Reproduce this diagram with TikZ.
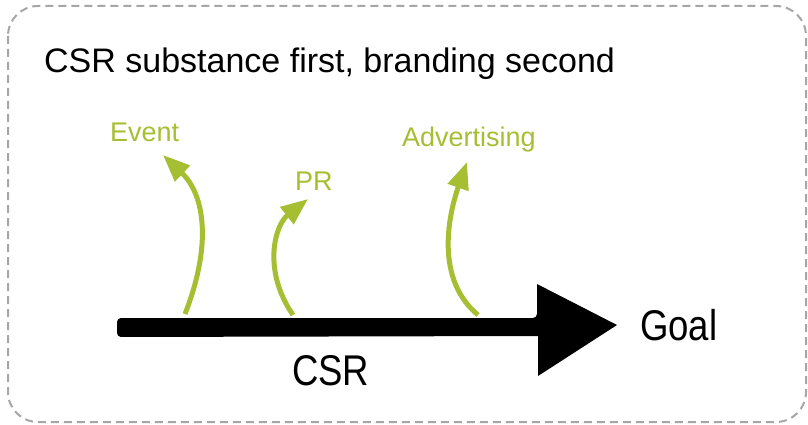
\documentclass[tikz,border=0pt]{standalone}
\usepackage{fontspec}
\setmainfont{Liberation Sans}
\newfontfamily\narrowfont[FakeStretch=0.85]{Liberation Sans}
\usetikzlibrary{arrows.meta}
\definecolor{leaf}{RGB}{166,190,50}
\definecolor{frame}{RGB}{166,166,166}
\tikzset{
  label text/.style={inner sep=0pt, anchor=base west, text=leaf, font=\fontsize{27}{30}\selectfont},
  big text/.style={inner sep=0pt, anchor=base west, font=\narrowfont\fontsize{43}{46}\selectfont},
  branch/.style={leaf, line width=5pt, -{Triangle[length=27pt,width=21pt]}},
}
\begin{document}
\begin{tikzpicture}[x=1pt, y=-1pt]
\useasboundingbox (0,0) rectangle (808,425);
% dashed frame
\draw[frame, line width=2pt, dash pattern=on 8pt off 5pt, rounded corners=30pt]
  (8,6) rectangle (806,422);
% heading
\node[inner sep=0pt, anchor=base west, font=\fontsize{34}{38}\selectfont] (title) at (44,73)
  {CSR substance first, branding second};
% main arrow
\fill (537,318) -- (537,284) -- (617,325) -- (538,376) -- (538,336)
  [rounded corners=4pt] -- (117,337) -- (117,318) -- cycle;
\node[big text] (goal) at (640,340) {Goal};
\node[big text] (csr) at (292,385) {CSR};
% branch labels
\node[label text] (event) at (110,141.5) {Event};
\node[label text] (pr) at (295,190) {PR};
\node[label text] (adv) at (402,146.5) {Advertising};
% branch arrows
\coordinate (ev0) at (185,314); \coordinate (ev1) at (163,155);
\coordinate (pr0) at (293,315); \coordinate (pr1) at (308,199);
\coordinate (ad0) at (478,315); \coordinate (ad1) at (467,162);
\draw[branch] (ev0) .. controls (212,245) and (205,195) .. (ev1);
\draw[branch] (pr0) .. controls (262,270) and (275,225) .. (pr1);
\draw[branch] (ad0) .. controls (430,275) and (453,202) .. (ad1);
\end{tikzpicture}
\end{document}
